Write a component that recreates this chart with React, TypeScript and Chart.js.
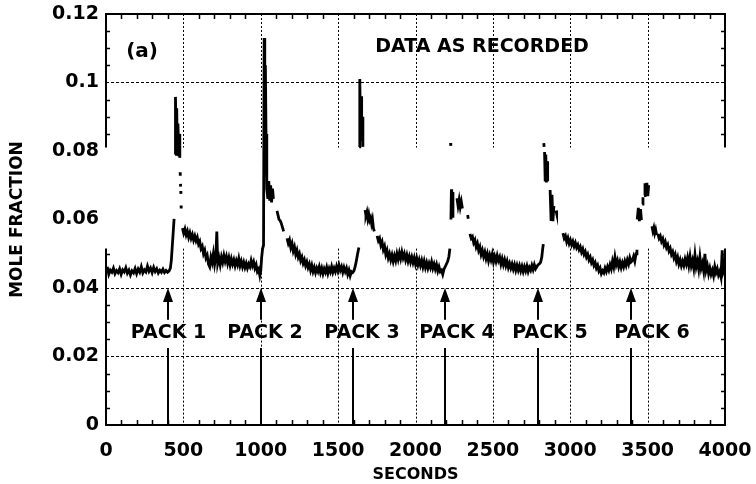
import React, { useEffect, useRef } from 'react';
import { Chart, registerables } from 'chart.js';

Chart.register(...registerables);

// ---------- DATA ----------
// [seconds, mole fraction]; null marks where the recorded trace is missing in the scan
const TRACE: [number, number | null][] = [
  [8,.0462],[18,.0440],[28,.0452],[38,.0446],[48,.0458],[58,.0442],[68,.0451],[78,.0445],[88,.0456],[98,.0440],
  [108,.0453],[118,.0447],[128,.0459],[138,.0443],[148,.0452],[158,.0438],[168,.0450],[178,.0444],[188,.0457],[198,.0442],
  [208,.0455],[218,.0446],[228,.0462],[238,.0444],[248,.0453],[258,.0447],[268,.0464],[278,.0449],[288,.0458],[298,.0445],
  [308,.0460],[318,.0448],[328,.0456],[338,.0444],[348,.0452],[358,.0446],[368,.0455],[378,.0445],[388,.0451],[398,.0446],
  [408,.0450],[416,.0458],[422,.0480],[428,.0520],[434,.0560],[440,.0602],[442,null],
  [446,.0790],[449,.0958],[453,.0840],[457,.0925],[461,.0790],[465,.0880],[469,.0785],[473,.0850],[477,.0780],[478,null],
  [479,.0738],[480,.0728],[480.5,null],[481,.0704],[482,.0696],[482.5,null],[483,.0683],[484,.0675],[484.5,null],
  [485,.0641],[486,.0632],[487,null],
  [494,.0575],[502,.0560],[510,.0572],[518,.0555],[526,.0566],[534,.0548],[542,.0561],[550,.0545],[558,.0556],[566,.0540],
  [574,.0552],[582,.0538],[590,.0548],[598,.0528],[606,.0536],[614,.0515],[622,.0522],[630,.0500],[638,.0510],[646,.0488],
  [654,.0496],[662,.0470],[670,.0462],[678,.0490],[686,.0475],[694,.0500],[702,.0470],[710,.0492],[716,.0565],[722,.0472],
  [730,.0488],[738,.0468],[746,.0490],[754,.0475],[762,.0495],[770,.0478],[778,.0492],[786,.0472],[794,.0488],[802,.0468],
  [810,.0485],[818,.0470],[826,.0482],[834,.0465],[842,.0480],[850,.0468],[858,.0486],[866,.0465],[874,.0478],[882,.0462],
  [890,.0475],[898,.0460],[906,.0472],[914,.0458],[922,.0470],[930,.0462],[938,.0480],[946,.0465],[954,.0476],[962,.0458],
  [970,.0468],[978,.0448],[986,.0455],[994,.0436],[1000,.0450],[1006,.0490],[1012,.0515],[1018,.0525],
  [1022,.1130],[1026,.0950],[1030,.1050],[1034,.0850],[1038,.0700],
  [1040,.0690],[1046,.0660],[1052,.0712],[1058,.0655],[1064,.0700],[1070,.0650],[1076,.0690],[1082,.0660],[1084,null],
  [1105,.0625],[1112,.0612],[1118,.0600],[1124,.0598],[1132,.0590],[1140,.0578],[1148,.0565],[1155,null],
  [1170,.0545],[1178,.0530],[1186,.0540],[1194,.0518],[1202,.0530],[1210,.0508],[1218,.0520],[1226,.0498],[1234,.0510],[1242,.0490],
  [1250,.0500],[1258,.0480],[1266,.0490],[1274,.0472],[1282,.0482],[1290,.0465],[1298,.0476],[1306,.0460],[1314,.0470],[1322,.0452],
  [1330,.0466],[1338,.0448],[1346,.0460],[1354,.0445],[1362,.0458],[1370,.0448],[1378,.0462],[1386,.0445],[1394,.0458],[1402,.0442],
  [1410,.0456],[1418,.0446],[1426,.0460],[1434,.0443],[1442,.0457],[1450,.0447],[1458,.0462],[1466,.0446],[1474,.0458],[1482,.0448],
  [1490,.0463],[1498,.0450],[1506,.0466],[1514,.0452],[1522,.0462],[1530,.0446],[1538,.0460],[1546,.0448],[1554,.0458],[1562,.0440],
  [1570,.0452],[1578,.0436],[1586,.0448],[1594,.0445],[1602,.0450],[1610,.0462],[1618,.0480],[1626,.0500],[1634,.0518],[1636,null],
  [1636,.0812],[1640,.1010],[1644,.0880],[1648,.0960],[1652,.0830],[1656,.0900],[1660,.0812],[1663,null],
  [1674,.0628],[1680,.0612],[1686,.0622],[1692,.0602],[1698,.0615],[1704,.0598],[1710,.0605],[1716,.0588],[1722,.0600],[1728,.0575],
  [1734,.0565],[1738,null],
  [1752,.0552],[1760,.0538],[1768,.0545],[1776,.0525],[1784,.0535],[1792,.0512],[1800,.0522],[1808,.0498],[1816,.0510],[1824,.0488],
  [1832,.0500],[1840,.0482],[1848,.0496],[1856,.0478],[1864,.0494],[1872,.0480],[1880,.0500],[1888,.0484],[1896,.0502],[1904,.0486],
  [1912,.0505],[1920,.0488],[1928,.0500],[1936,.0482],[1944,.0496],[1952,.0478],[1960,.0492],[1968,.0476],[1976,.0490],[1984,.0474],
  [1992,.0488],[2000,.0470],[2008,.0486],[2016,.0468],[2024,.0482],[2032,.0466],[2040,.0480],[2048,.0462],[2056,.0478],[2064,.0460],
  [2072,.0474],[2080,.0458],[2088,.0472],[2096,.0460],[2104,.0476],[2112,.0458],[2120,.0470],[2128,.0455],[2136,.0468],[2144,.0450],
  [2152,.0462],[2160,.0448],[2168,.0452],[2176,.0440],[2184,.0455],[2192,.0462],[2200,.0470],[2208,.0478],[2216,.0492],[2222,.0515],[2224,null],
  [2226.5,.0823],[2228,.0815],[2228.5,null],
  [2229,.0600],[2232,.0688],[2234,.0620],[2238,.0680],[2242,.0605],[2244,null],
  [2268,.0662],[2275,.0640],[2282,.0658],[2289,.0636],[2296,.0652],[2303,.0632],[2306,null],
  [2337,.0613],[2341,.0602],[2344,null],
  [2352,.0558],[2360,.0545],[2368,.0550],[2376,.0532],[2384,.0540],[2392,.0520],[2400,.0530],[2408,.0510],[2416,.0520],[2424,.0498],
  [2432,.0510],[2440,.0492],[2448,.0505],[2456,.0486],[2464,.0500],[2472,.0480],[2480,.0496],[2488,.0482],[2496,.0498],[2504,.0476],
  [2512,.0492],[2520,.0478],[2528,.0495],[2536,.0480],[2544,.0490],[2552,.0470],[2560,.0485],[2568,.0468],[2576,.0482],[2584,.0465],
  [2592,.0478],[2600,.0460],[2608,.0472],[2616,.0458],[2624,.0470],[2632,.0455],[2640,.0468],[2648,.0452],[2656,.0466],[2664,.0452],
  [2672,.0465],[2680,.0450],[2688,.0463],[2696,.0448],[2704,.0462],[2712,.0450],[2720,.0464],[2728,.0448],[2736,.0460],[2744,.0452],
  [2752,.0466],[2760,.0454],[2768,.0468],[2776,.0456],[2784,.0462],[2792,.0468],[2800,.0470],[2808,.0475],[2816,.0490],[2822,.0515],
  [2826,.0528],[2828,null],
  [2829,.0823],[2831,.0812],[2832,null],
  [2834,.0797],[2838,.0715],[2842,.0790],[2846,.0708],[2850,.0770],[2854,.0712],[2856,null],
  [2870,.0686],[2876,.0600],[2882,.0672],[2888,.0595],[2894,.0640],[2897,null],
  [2908,.0626],[2912,.0618],[2914,null],
  [2953,.0560],[2961,.0545],[2969,.0552],[2977,.0535],[2985,.0546],[2993,.0530],[3001,.0540],[3009,.0526],[3017,.0536],[3025,.0522],
  [3033,.0532],[3041,.0518],[3049,.0526],[3057,.0512],[3065,.0520],[3073,.0505],[3081,.0514],[3089,.0498],[3097,.0506],[3105,.0490],
  [3113,.0498],[3121,.0482],[3129,.0490],[3137,.0474],[3145,.0482],[3153,.0466],[3161,.0474],[3169,.0458],[3177,.0466],[3185,.0450],
  [3193,.0458],[3201,.0442],[3209,.0450],[3217,.0444],[3225,.0458],[3233,.0448],[3241,.0462],[3249,.0452],[3257,.0468],[3265,.0456],
  [3273,.0478],[3281,.0462],[3289,.0490],[3297,.0468],[3305,.0480],[3313,.0462],[3321,.0476],[3329,.0460],[3337,.0474],[3345,.0462],
  [3353,.0478],[3361,.0466],[3369,.0482],[3377,.0470],[3385,.0488],[3393,.0476],[3401,.0480],[3409,.0492],[3417,.0478],[3425,.0500],
  [3431,.0512],[3433,null],
  [3433,.0600],[3440,.0634],[3447,.0595],[3454,.0630],[3460,.0598],[3463,null],
  [3465,.0645],[3470,.0665],[3473,null],
  [3477,.0670],[3483,.0706],[3489,.0672],[3495,.0707],[3501,.0668],[3507,.0700],[3510,null],
  [3528,.0580],[3534,.0566],[3540,.0576],[3546,.0560],[3552,.0570],[3558,.0555],[3561,null],
  [3566,.0558],[3574,.0545],[3582,.0552],[3590,.0536],[3598,.0544],[3606,.0526],[3614,.0535],[3622,.0518],[3630,.0526],[3638,.0508],
  [3646,.0516],[3654,.0498],[3662,.0506],[3670,.0488],[3678,.0498],[3686,.0478],[3694,.0490],[3702,.0470],[3710,.0482],[3718,.0465],
  [3726,.0478],[3734,.0466],[3742,.0484],[3750,.0470],[3758,.0488],[3766,.0466],[3774,.0492],[3782,.0465],[3790,.0480],[3798,.0458],
  [3806,.0496],[3814,.0462],[3822,.0478],[3830,.0455],[3838,.0490],[3846,.0458],[3854,.0472],[3862,.0450],[3870,.0500],[3878,.0452],
  [3886,.0466],[3894,.0442],[3902,.0458],[3910,.0440],[3918,.0452],[3926,.0436],[3934,.0462],[3942,.0445],[3950,.0456],[3958,.0438],
  [3966,.0448],[3974,.0432],[3982,.0510],[3988,.0445],[3996,.0455],
];

const PACK_LABELS = ['PACK 1', 'PACK 2', 'PACK 3', 'PACK 4', 'PACK 5', 'PACK 6'];
const PACK_TIMES = [400, 1002, 1598, 2192, 2790, 3394];
const PACK_LABEL_CENTERS = [404, 1027, 1654, 2268, 2869, 3528];

const X_TICK_LABELS = ['0', '500', '1000', '1500', '2000', '2500', '3000', '3500', '4000'];
const Y_TICK_LABELS = ['0', '0.02', '0.04', '0.06', '0.08', '0.1', '0.12'];

const PANEL_LABEL = '(a)';
const PANEL_TITLE = 'DATA AS RECORDED';
const X_TITLE = 'SECONDS';
const Y_TITLE = 'MOLE FRACTION';

// band of the scan where grid and axes are missing (in mole fraction units)
const GAP_LOW = 0.0515;
const GAP_HIGH = 0.081;

const FONT = 'DejaVu Sans';

const overlayPlugin = {
  id: 'overlay',
  beforeDatasetsDraw(chart: any) {
    const { ctx, chartArea: a, scales } = chart;
    const x = scales.x, y = scales.y;
    const gTop = y.getPixelForValue(GAP_HIGH);
    const gBot = y.getPixelForValue(GAP_LOW);
    ctx.save();
    ctx.strokeStyle = '#000';
    ctx.lineWidth = 1;
    // vertical dotted grid
    ctx.setLineDash([2, 2]);
    for (let v = 500; v < 4000; v += 500) {
      const px = Math.round(x.getPixelForValue(v)) + 0.5;
      ctx.beginPath();
      ctx.moveTo(px, a.top); ctx.lineTo(px, gTop);
      ctx.moveTo(px, gBot); ctx.lineTo(px, a.bottom);
      ctx.stroke();
    }
    // horizontal dotted grid
    ctx.setLineDash([3, 2]);
    for (let i = 1; i < Y_TICK_LABELS.length - 1; i++) {
      const v = i * 0.02;
      if (v > GAP_LOW && v < GAP_HIGH) continue;
      const py = Math.round(y.getPixelForValue(v)) + 0.5;
      ctx.beginPath();
      ctx.moveTo(a.left, py); ctx.lineTo(a.right, py);
      ctx.stroke();
    }
    ctx.restore();
  },
  afterDatasetsDraw(chart: any) {
    const { ctx, chartArea: a, scales } = chart;
    const x = scales.x, y = scales.y;
    const gTop = y.getPixelForValue(GAP_HIGH);
    const gBot = y.getPixelForValue(GAP_LOW);
    ctx.save();
    ctx.strokeStyle = '#000';
    ctx.fillStyle = '#000';
    ctx.setLineDash([]);
    // frame
    ctx.lineWidth = 2;
    ctx.beginPath();
    ctx.moveTo(a.left - 1, a.top); ctx.lineTo(a.right + 1, a.top);
    ctx.moveTo(a.left - 1, a.bottom); ctx.lineTo(a.right + 1, a.bottom);
    ctx.moveTo(a.left, a.top); ctx.lineTo(a.left, gTop);
    ctx.moveTo(a.left, gBot); ctx.lineTo(a.left, a.bottom);
    ctx.moveTo(a.right, a.top); ctx.lineTo(a.right, gTop);
    ctx.moveTo(a.right, gBot); ctx.lineTo(a.right, a.bottom);
    ctx.stroke();
    // inward minor ticks
    ctx.lineWidth = 1.5;
    ctx.beginPath();
    for (let v = 100; v < 4000; v += 100) {
      if (v % 500 === 0) continue;
      const px = Math.round(x.getPixelForValue(v)) + 0.5;
      ctx.moveTo(px, a.top); ctx.lineTo(px, a.top + 5);
      ctx.moveTo(px, a.bottom); ctx.lineTo(px, a.bottom - 5);
    }
    for (let k = 1; k < 24; k++) {
      if (k % 4 === 0) continue;
      const v = k * 0.005;
      if (v > GAP_LOW - 0.001 && v < GAP_HIGH + 0.001) continue;
      const py = Math.round(y.getPixelForValue(v)) + 0.5;
      ctx.moveTo(a.left, py); ctx.lineTo(a.left + 4, py);
      ctx.moveTo(a.right, py); ctx.lineTo(a.right - 4, py);
    }
    ctx.stroke();
    // pack arrows
    const yTip = y.getPixelForValue(0.04);
    const yHeadBase = y.getPixelForValue(0.0359);
    const yShaftBottom = y.getPixelForValue(0.0307);
    const yLineTop = y.getPixelForValue(0.0225);
    ctx.lineWidth = 2;
    PACK_TIMES.forEach((t) => {
      const px = Math.round(x.getPixelForValue(t));
      ctx.beginPath();
      ctx.moveTo(px, a.bottom); ctx.lineTo(px, yLineTop);
      ctx.moveTo(px, yShaftBottom); ctx.lineTo(px, yHeadBase);
      ctx.stroke();
      ctx.beginPath();
      ctx.moveTo(px, yTip);
      ctx.lineTo(px - 5, yHeadBase);
      ctx.lineTo(px + 5, yHeadBase);
      ctx.closePath();
      ctx.fill();
    });
    // texts
    ctx.textAlign = 'center';
    ctx.textBaseline = 'middle';
    ctx.font = `bold 19px "${FONT}"`;
    const labelY = y.getPixelForValue(0.0268);
    PACK_LABELS.forEach((lab, i) => {
      ctx.fillText(lab, x.getPixelForValue(PACK_LABEL_CENTERS[i]), labelY);
    });
    ctx.fillText(PANEL_TITLE, x.getPixelForValue(2430), y.getPixelForValue(0.1104));
    ctx.font = `bold 20px "${FONT}"`;
    ctx.fillText(PANEL_LABEL, x.getPixelForValue(233), y.getPixelForValue(0.1089));
    ctx.restore();
  },
};

export default function App() {
  const ref = useRef<HTMLCanvasElement>(null);
  useEffect(() => {
    const points = TRACE.map(([t, v]) => ({ x: t, y: v }));
    const chart = new Chart(ref.current as HTMLCanvasElement, {
      type: 'line',
      data: {
        datasets: [
          {
            label: 'Mole fraction',
            data: points as any,
            borderColor: '#000',
            borderWidth: 2.8,
            pointRadius: 0,
            tension: 0,
            spanGaps: false,
            fill: false,
          },
        ],
      },
      options: {
        responsive: false,
        animation: false,
        layout: { padding: { top: 14, right: 31, bottom: 0, left: 0 } },
        plugins: { legend: { display: false }, tooltip: { enabled: false } },
        scales: {
          x: {
            type: 'linear',
            min: 0,
            max: 4000,
            afterFit: (s: any) => {
              s.height = 59;
              s.paddingLeft = 0;
              s.paddingRight = 0;
            },
            grid: { display: false, drawTicks: false },
            border: { display: false },
            ticks: {
              stepSize: 500,
              autoSkip: false,
              maxRotation: 0,
              padding: 15,
              color: '#000',
              font: { family: FONT, size: 19, weight: 'bold' },
              callback: (v: any) => X_TICK_LABELS[Math.round(Number(v) / 500)] ?? '',
            },
            title: {
              display: true,
              text: X_TITLE,
              color: '#000',
              font: { family: FONT, size: 16, weight: 'bold' },
              padding: { top: 0, bottom: 0 },
            },
          },
          y: {
            type: 'linear',
            min: 0,
            max: 0.12,
            afterFit: (s: any) => {
              s.width = 106;
              s.paddingTop = 0;
              s.paddingBottom = 0;
            },
            grid: { display: false, drawTicks: false },
            border: { display: false },
            ticks: {
              stepSize: 0.02,
              autoSkip: false,
              padding: 7,
              color: '#000',
              font: { family: FONT, size: 19, weight: 'bold' },
              callback: (v: any) => Y_TICK_LABELS[Math.round(Number(v) / 0.02)] ?? '',
            },
            title: {
              display: true,
              text: Y_TITLE,
              color: '#000',
              font: { family: FONT, size: 17, weight: 'bold' },
              padding: { top: 7, bottom: 0 },
            },
          },
        },
      },
      plugins: [overlayPlugin],
    });
    return () => chart.destroy();
  }, []);
  return (
    <canvas
      ref={ref}
      width={756}
      height={484}
      style={{ position: 'absolute', left: 0, top: 0, width: '756px', height: '484px', background: '#fff' }}
    />
  );
}
